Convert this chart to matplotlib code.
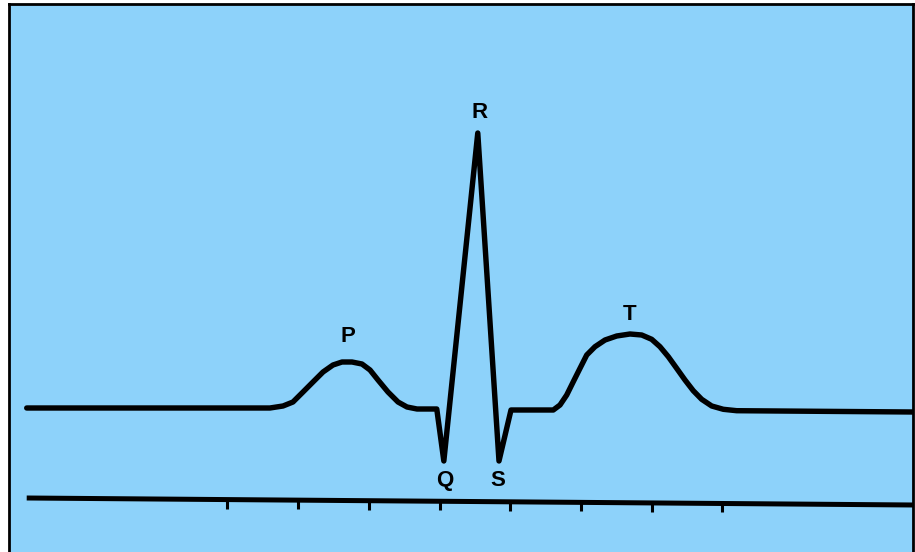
import matplotlib
matplotlib.use('Agg')
import matplotlib.pyplot as plt

# schematic ECG trace: time in seconds, voltage in mV (baseline = 0)
wave_t = [0.016, 0.360, 0.3785, 0.3926, 0.4068, 0.4209, 0.4351, 0.4492, 0.4620,
          0.4761, 0.4902, 0.5016, 0.5129, 0.5270, 0.5412, 0.5539, 0.5681, 0.596,
          0.606, 0.654, 0.684, 0.701, 0.7608, 0.7703, 0.7798, 0.7891, 0.7986,
          0.8081, 0.8198, 0.8340, 0.8505, 0.8693, 0.8859, 0.9000, 0.9117, 0.9235,
          0.9353, 0.9471, 0.9588, 0.9707, 0.9849, 1.0013, 1.0202, 1.270]
wave_v = [0.005, 0.005, 0.015, 0.035, 0.085, 0.135, 0.185, 0.220, 0.235,
          0.235, 0.225, 0.195, 0.145, 0.085, 0.035, 0.010, 0.000, 0.000,
          -0.260, 1.380, -0.260, -0.005, -0.005, 0.020, 0.070, 0.1365, 0.2035,
          0.270, 0.3115, 0.345, 0.365, 0.375, 0.370, 0.3485, 0.3115, 0.2615,
          0.2035, 0.145, 0.0915, 0.0485, 0.015, -0.0015, -0.0085, -0.015]

# which trace points carry the P, Q, R, S, T names
label_names = ['P', 'Q', 'R', 'S', 'T']
label_idx = [9, 18, 19, 20, 31]

# time axis drawn under the trace
axis_t = [0.016, 1.270]
axis_v = [-0.445, -0.480]
tick_t = [0.3, 0.4, 0.5, 0.6, 0.7, 0.8, 0.9, 1.0]

fig = plt.figure(figsize=(9.15, 5.52), dpi=100)
ax = fig.add_axes([9 / 915, 0, 904 / 915, 548 / 552])
ax.set_facecolor('#8DD2FA')
ax.set_xlim(-0.00905, 1.2696)
ax.set_ylim(-0.715, 2.025)
ax.set_xticks([])
ax.set_yticks([])
for sp in ax.spines.values():
    sp.set_color('black')
    sp.set_linewidth(2)
ax.spines['bottom'].set_visible(False)

ax.plot(wave_t, wave_v, color='black', lw=3.9,
        solid_joinstyle='round', solid_capstyle='round')

ax.plot(axis_t, axis_v, color='black', lw=3.6, solid_capstyle='butt')
for t in tick_t:
    frac = (t - axis_t[0]) / (axis_t[1] - axis_t[0])
    y0 = axis_v[0] + frac * (axis_v[1] - axis_v[0])
    ax.plot([t, t], [y0, y0 - 0.045], color='black', lw=2.2, solid_capstyle='butt')

offsets = {'P': (-3, 18), 'Q': (1, -14), 'R': (1, 15), 'S': (-1, -14), 'T': (0, 14)}
for name, i in zip(label_names, label_idx):
    ax.annotate(name, (wave_t[i], wave_v[i]), xytext=offsets[name],
                textcoords='offset points', ha='center', va='center',
                fontsize=16, fontweight='bold', family='Liberation Sans')

fig.savefig('out.png', dpi=100, facecolor='white')
